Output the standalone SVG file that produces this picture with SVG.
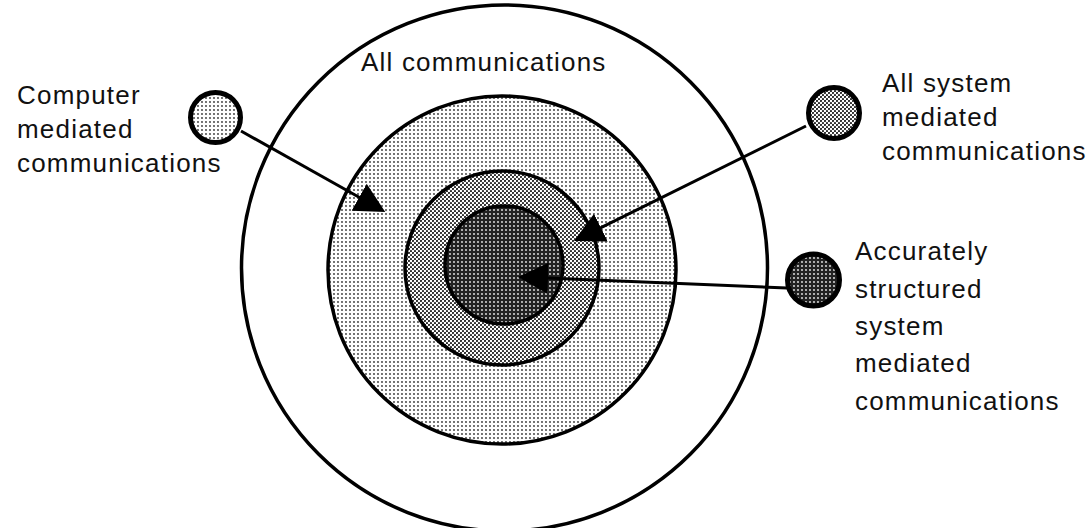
<svg xmlns="http://www.w3.org/2000/svg" width="1089" height="528" viewBox="0 0 1089 528">
<style>
.lbl{font-family:"Liberation Sans",Arial,sans-serif;font-size:26px;fill:#111;letter-spacing:1.2px}
.ring{stroke:#000;stroke-width:3.5}
.node{stroke:#000;stroke-width:5}
.conn{stroke:#000;stroke-width:3;fill:none}
</style>
<defs>
<pattern id="pLight" width="4" height="4" patternUnits="userSpaceOnUse">
<rect width="4" height="4" fill="#fff"/><circle cx="2" cy="2" r="0.9" fill="#333"/>
</pattern>
<pattern id="pMed" width="4" height="4" patternUnits="userSpaceOnUse">
<rect width="4" height="4" fill="#fff"/><circle cx="1" cy="1" r="1.1" fill="#222"/><circle cx="3" cy="3" r="1.1" fill="#222"/>
</pattern>
<pattern id="pDark" width="4" height="4" patternUnits="userSpaceOnUse">
<rect width="4" height="4" fill="#222"/><circle cx="2" cy="2" r="0.9" fill="#eee"/>
</pattern>
<marker id="arrow" markerUnits="userSpaceOnUse" markerWidth="30" markerHeight="31" refX="1" refY="15.5" orient="auto">
<path d="M0,0 L30,15.5 L0,31 Z" fill="#000"/>
</marker>
</defs>
<g id="all-communications">
<circle class="ring" cx="504.5" cy="268" r="263" fill="#fff"/>
<text class="lbl" x="361" y="71">All communications</text>
</g>
<g id="computer-mediated-ring">
<circle class="ring" cx="502" cy="270" r="174" fill="url(#pLight)"/>
</g>
<g id="system-mediated-ring">
<circle class="ring" cx="502" cy="268" r="97" fill="url(#pMed)"/>
</g>
<g id="structured-ring">
<circle class="ring" cx="504" cy="265" r="59" fill="url(#pDark)"/>
</g>
<g id="node-computer">
<circle class="node" cx="215.5" cy="117.5" r="25" fill="url(#pLight)"/>
<text class="lbl"><tspan x="17" y="104">Computer</tspan><tspan x="17" y="138">mediated</tspan><tspan x="17" y="172">communications</tspan></text>
</g>
<g id="node-system">
<circle class="node" cx="834" cy="113" r="25.5" fill="url(#pMed)"/>
<text class="lbl"><tspan x="882" y="92">All system</tspan><tspan x="882" y="126">mediated</tspan><tspan x="882" y="160">communications</tspan></text>
</g>
<g id="node-structured">
<circle class="node" cx="813.5" cy="280" r="26" fill="url(#pDark)"/>
<text class="lbl"><tspan x="855" y="260">Accurately</tspan><tspan x="855" y="298">structured</tspan><tspan x="855" y="335">system</tspan><tspan x="855" y="372">mediated</tspan><tspan x="855" y="410">communications</tspan></text>
</g>
<g id="connectors">
<path class="conn" d="M241,131 L360,197.8" marker-end="url(#arrow)"/>
<path class="conn" d="M806,126 L600,228.1" marker-end="url(#arrow)"/>
<path class="conn" d="M787,288 L547,278.1" marker-end="url(#arrow)"/>
</g>
</svg>
